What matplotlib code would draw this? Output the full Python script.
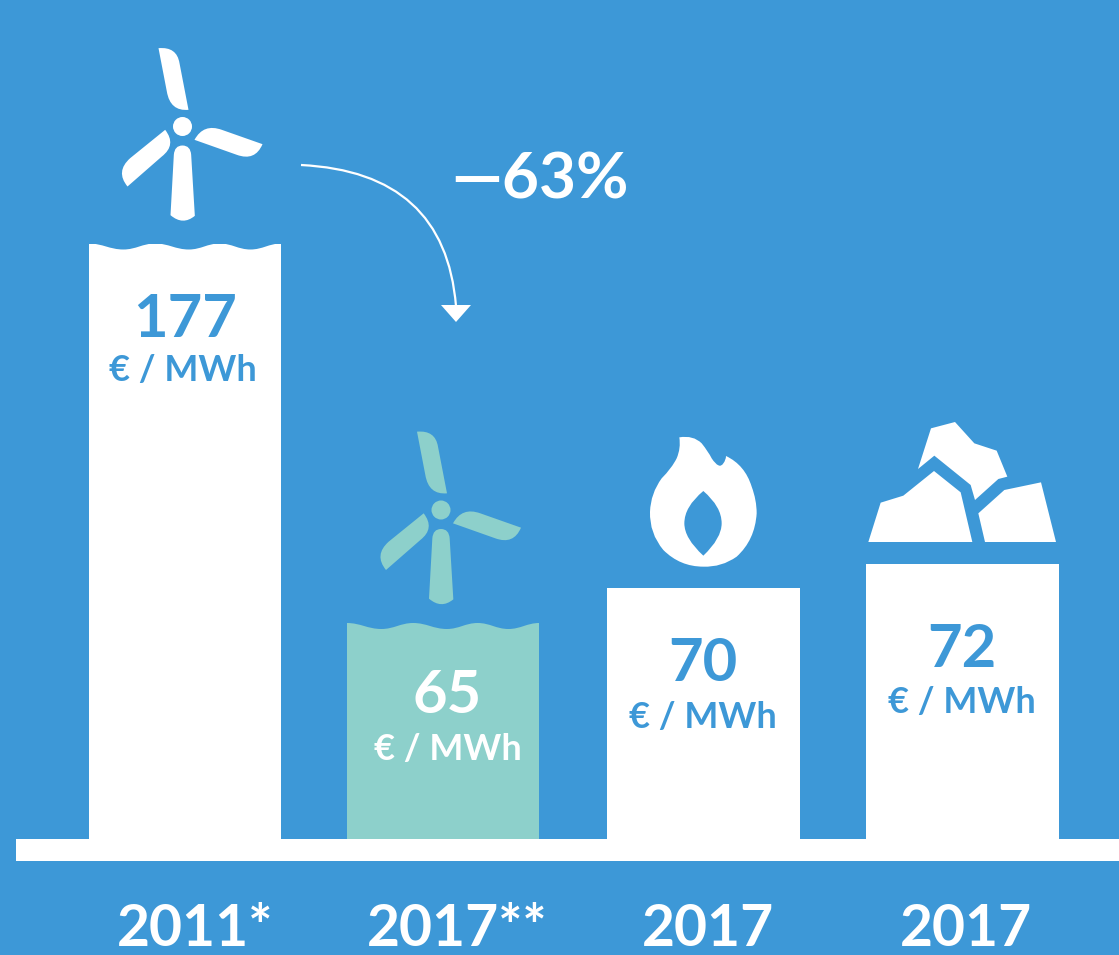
import matplotlib.pyplot as plt
from matplotlib.patches import PathPatch, Circle, Rectangle, Polygon
from matplotlib.path import Path
from matplotlib.transforms import Affine2D

# Data
years = ['2011*', '2017**', '2017', '2017']
values = ['177', '65', '70', '72']
unit = '€ / MWh'
drop_label = '—63%'
# the bars in the original are not strictly to scale, so these are read as drawn
bar_heights = [177.0, 64.5, 74.7, 81.8]

BLUE = '#3d98d7'
TEAL = '#8dd0cb'
WHITE = '#ffffff'
W, H = 1119, 955
PX_PER_UNIT = 3.36
BASE_Y = 839
BAR_PITCH = 258.8
FIRST_X = 185
BAR_W = 192.5

plt.rcParams['font.family'] = ['Lato', 'DejaVu Sans']

fig = plt.figure(figsize=(W / 100, H / 100), dpi=100, facecolor=BLUE)
ax = fig.add_axes([0, 0, 1, 1])
ax.set_xlim(-FIRST_X / BAR_PITCH, (W - FIRST_X) / BAR_PITCH)
ax.set_ylim(-(H - BASE_Y) / PX_PER_UNIT, BASE_Y / PX_PER_UNIT)
ax.axis('off')

# everything that is not a bar is placed in image pixels
px = Affine2D().scale(1 / W, -1 / H).translate(0, 1) + fig.transFigure


def from_zoom(points, ox, oy):
    return [(ox + a / 3, oy + b / 3) for a, b in points]


def curve_path(start, segments, ox, oy):
    # segments: a point for a line, or two points (control, end) for a curve
    verts = [start]
    codes = [Path.MOVETO]
    for seg in segments:
        if len(seg) == 2 and not isinstance(seg[0], tuple):
            verts.append(seg)
            codes.append(Path.LINETO)
        else:
            verts.extend(seg)
            codes.extend([Path.CURVE3, Path.CURVE3])
    verts.append(start)
    codes.append(Path.CLOSEPOLY)
    return from_zoom(verts, ox, oy), codes


def draw_turbine(hx, hy, color):
    ox, oy = hx - 307 / 3, hy - 290 / 3
    blades = [
        ((235, 55), [((290, 50), (298, 100)), (325, 240), ((270, 245), (260, 185))]),
        ((343, 330), [((370, 280), (425, 300)), (547, 343), ((525, 395), (470, 375))]),
        ((255, 300), [((290, 345), (245, 380)), (142, 470), ((105, 425), (150, 385))]),
        ((281, 375), [((283, 347), (307, 347)), ((331, 347), (333, 375)), (344, 558),
                      ((308, 588), (271, 556))]),
    ]
    for start, segments in blades:
        verts, codes = curve_path(start, segments, ox, oy)
        ax.add_patch(PathPatch(Path(verts, codes), fc=color, ec='none', transform=px))
    ax.add_patch(Circle((hx, hy), 9.5, fc=color, ec='none', transform=px))


# Bars
bar_px = [185, 443, 703.5, 962.5]
bar_pos = [(p - FIRST_X) / BAR_PITCH for p in bar_px]
colors = [WHITE, TEAL, WHITE, WHITE]
bars = ax.bar(bar_pos, bar_heights, width=BAR_W / BAR_PITCH, color=colors, linewidth=0)

# wavy tops on the two offshore wind bars
for bar, top in zip([bars[0], bars[1]], [243.5, 623]):
    x0 = bar.get_x() * BAR_PITCH + FIRST_X
    w = BAR_W
    crest, dip = top, top + 6
    verts = [(x0, crest)]
    codes = [Path.MOVETO]
    stops = [(0.18, dip), (0.345, crest), (0.52, dip), (0.68, crest), (0.84, dip), (1.0, crest)]
    prev = 0.0
    for frac, y in stops:
        step = (frac - prev) * 0.4
        y_prev = verts[-1][1]
        verts += [(x0 + w * (prev + step), y_prev), (x0 + w * (frac - step), y), (x0 + w * frac, y)]
        codes += [Path.CURVE4] * 3
        prev = frac
    verts += [(x0 + w, BASE_Y), (x0, BASE_Y), (x0, crest)]
    codes += [Path.LINETO, Path.LINETO, Path.CLOSEPOLY]
    clip = PathPatch(Path(verts, codes), transform=px, fc='none', ec='none')
    ax.add_patch(clip)
    bar.set_clip_path(clip)

# Baseline
ax.add_patch(Rectangle((16, BASE_Y), W - 16, 22, fc=WHITE, ec='none', transform=px))

# Icons
draw_turbine(182.5, 126.5, WHITE)
draw_turbine(441, 510, TEAL)

flame_out = [((190, 75), (215, 100)), ((235, 125), (245, 145)), ((268, 180), (280, 160)),
             ((288, 150), (288, 138)), ((345, 165), (365, 230)), ((380, 270), (380, 310)),
             ((375, 390), (320, 440)), ((275, 472), (220, 470)), ((150, 470), (100, 420)),
             ((58, 370), (60, 305)), ((62, 250), (95, 205)), ((125, 175), (140, 145)),
             ((153, 115), (148, 82))]
flame_hole = [((163, 290), (163, 340)), ((163, 385), (220, 437)), ((275, 385), (275, 340)),
              ((275, 290), (220, 243))]
v1, c1 = curve_path((148, 82), flame_out, 630, 410)
v2, c2 = curve_path((220, 243), flame_hole, 630, 410)
ax.add_patch(PathPatch(Path(v1 + v2, c1 + c2), fc=WHITE, ec='none', transform=px))

coal_pieces = [
    [(903, 55), (975, 36), (1033, 100), (1100, 122), (1132, 200), (1105, 207), (1035, 270),
     (1022, 225), (913, 137), (864, 177)],
    [(752, 278), (820, 257), (912, 183), (992, 247), (1027, 396), (715, 396)],
    [(1123, 240), (1233, 217), (1278, 396), (1065, 396), (1045, 310)],
]
for piece in coal_pieces:
    ax.add_patch(Polygon(from_zoom(piece, 630, 410), closed=True, fc=WHITE, ec='none', transform=px))

# Arrow from the 2011 bar to the 2017 one
arrow = Path([(301, 165), (445, 172), (456, 306)], [Path.MOVETO, Path.CURVE3, Path.CURVE3])
ax.add_patch(PathPatch(arrow, fc='none', ec=WHITE, lw=1.6, transform=px))
ax.add_patch(Polygon([(441, 305), (471, 305), (456, 322)], closed=True, fc=WHITE, ec='none', transform=px))
ax.text(540, 198, drop_label, color=WHITE, fontsize=46, fontweight='bold', ha='center', va='baseline', transform=px)

# Labels
value_x = [185, 447, 703, 962]
value_base = [337, 713, 681, 667]
unit_x = [183, 448, 703, 962]
unit_base = [381, 760, 728, 713]
year_x = [195, 457, 708, 966]
text_colors = [BLUE, WHITE, BLUE, BLUE]
for i in range(4):
    ax.text(value_x[i], value_base[i], values[i], color=text_colors[i], fontsize=43, fontweight='bold',
            ha='center', va='baseline', transform=px)
    ax.text(unit_x[i], unit_base[i], unit, color=text_colors[i], fontsize=26, fontweight='bold',
            ha='center', va='baseline', transform=px)
    ax.text(year_x[i], 946, years[i], color=WHITE, fontsize=41, fontweight='bold',
            ha='center', va='baseline', transform=px, clip_on=False)

fig.savefig('out.png', dpi=100, facecolor=BLUE)
